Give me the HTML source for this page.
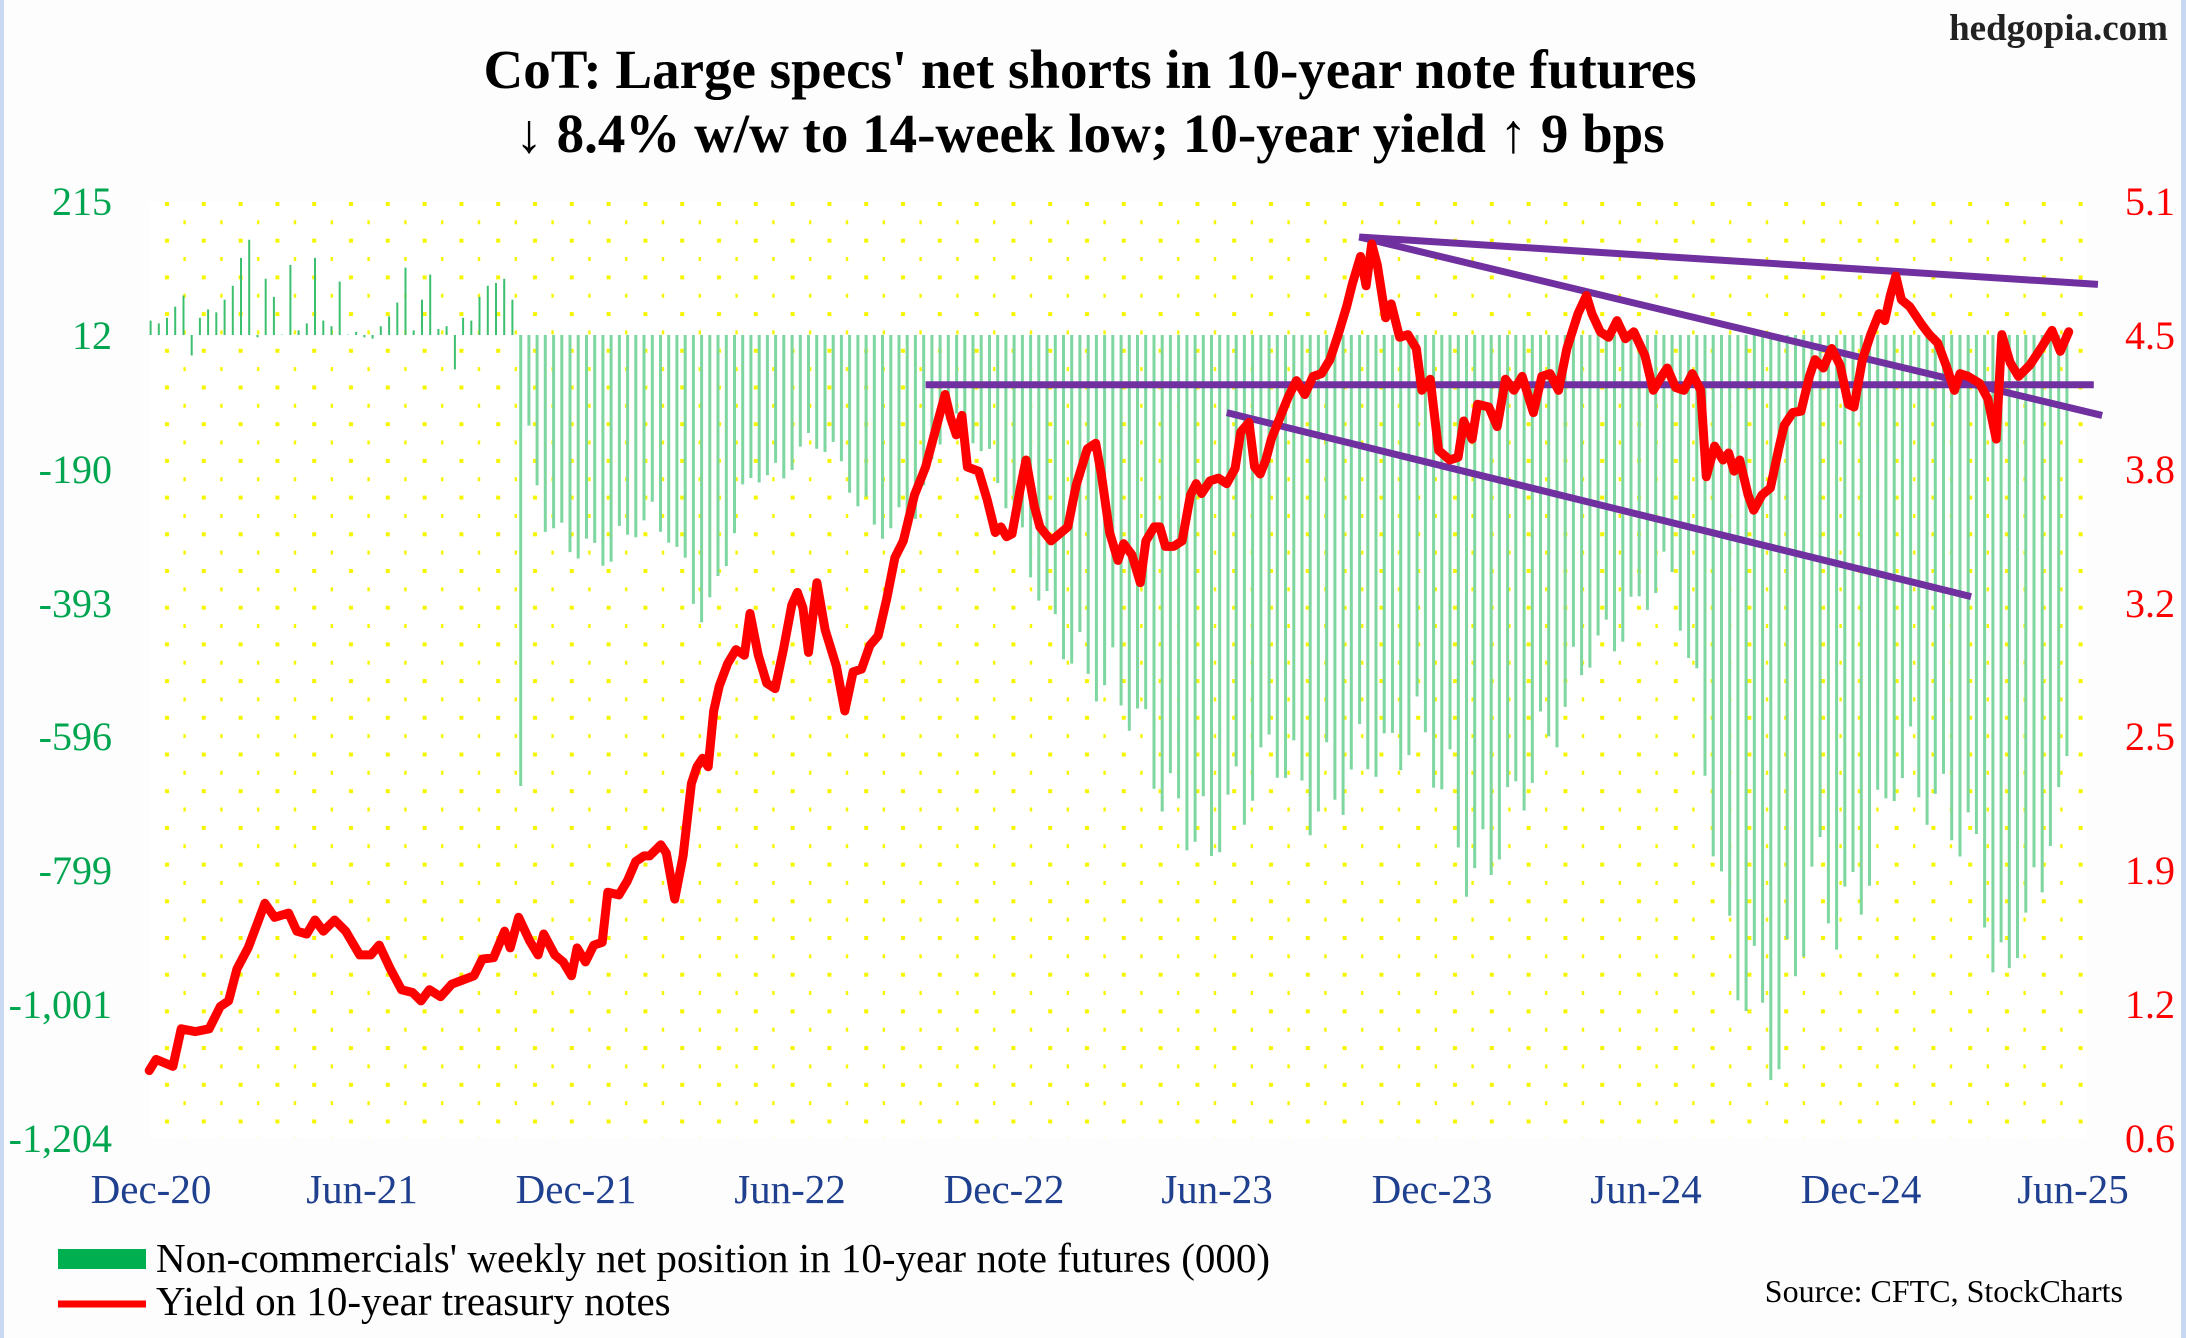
<!DOCTYPE html>
<html><head><meta charset="utf-8"><style>
html,body{margin:0;padding:0;background:#fff;}
svg{display:block;}
</style></head><body>
<svg id="s" width="2186" height="1338" viewBox="0 0 2186 1338" xmlns="http://www.w3.org/2000/svg" font-family="'Liberation Serif', serif">
<defs>
<pattern id="dots" x="149" y="202" width="36.8" height="36.7" patternUnits="userSpaceOnUse">
<rect x="16" y="0" width="4" height="4" fill="#f5f500"/>
<rect x="34.4" y="18.3" width="4" height="4" fill="#f5f500"/>
</pattern>
</defs>
<rect x="0" y="0" width="2186" height="1338" fill="#fdfdfd"/>
<rect x="0" y="0" width="4" height="1338" fill="#c8d8f0"/>
<rect x="2181" y="0" width="5" height="1338" fill="#c8d8f0"/>
<rect x="149" y="202" width="1938" height="936" fill="#fff"/>
<rect x="149" y="202" width="1938" height="936" fill="url(#dots)"/>
<g id="bars"></g>
<g id="trend" stroke="#7030a0" stroke-width="7" stroke-linecap="butt"></g>
<polyline id="yl" fill="none" stroke="#ff0000" stroke-width="9" stroke-linejoin="round" stroke-linecap="round"/>
<text x="2168" y="40" text-anchor="end" font-size="37" font-weight="bold" fill="#222">hedgopia.com</text>
<text x="1090" y="88" text-anchor="middle" font-size="55" font-weight="bold" fill="#000">CoT: Large specs' net shorts in 10-year note futures</text>
<text x="1090" y="152" text-anchor="middle" font-size="55" font-weight="bold" fill="#000">↓ 8.4% w/w to 14-week low; 10-year yield ↑ 9 bps</text>
<g font-size="40" fill="#00a550" text-anchor="end">
<text x="112" y="215">215</text><text x="112" y="349">12</text><text x="112" y="483">-190</text><text x="112" y="617">-393</text><text x="112" y="750">-596</text><text x="112" y="884">-799</text><text x="112" y="1018">-1,001</text><text x="112" y="1152">-1,204</text>
</g>
<g font-size="40" fill="#ff0000" text-anchor="end">
<text x="2175" y="215">5.1</text><text x="2175" y="349">4.5</text><text x="2175" y="483">3.8</text><text x="2175" y="617">3.2</text><text x="2175" y="750">2.5</text><text x="2175" y="884">1.9</text><text x="2175" y="1018">1.2</text><text x="2175" y="1152">0.6</text>
</g>
<g font-size="41" fill="#1f3f8f" text-anchor="middle">
<text x="151" y="1203">Dec-20</text><text x="362" y="1203">Jun-21</text><text x="576" y="1203">Dec-21</text><text x="790" y="1203">Jun-22</text><text x="1004" y="1203">Dec-22</text><text x="1217" y="1203">Jun-23</text><text x="1432" y="1203">Dec-23</text><text x="1646" y="1203">Jun-24</text><text x="1861" y="1203">Dec-24</text><text x="2073" y="1203">Jun-25</text>
</g>
<rect x="58" y="1249" width="88" height="20" fill="#00b050"/>
<line x1="58" y1="1304" x2="146" y2="1304" stroke="#ff0000" stroke-width="7"/>
<text x="156" y="1272" font-size="41" fill="#000">Non-commercials' weekly net position in 10-year note futures (000)</text>
<text x="156" y="1315" font-size="41" fill="#000">Yield on 10-year treasury notes</text>
<text x="2123" y="1302" text-anchor="end" font-size="32" fill="#000">Source: CFTC, StockCharts</text>
</svg>
<script>
var S=1.394,NS="http://www.w3.org/2000/svg";
var yk=[[107,768],[112,760],[124,765],[130,738],[140,740],[150,738],[158,722],[164,718],[170,695],[178,680],[190,648],[197,658],[207,655],[213,668],[220,670],[226,660],[232,668],[240,660],[248,668],[258,685],[266,685],[272,678],[280,695],[288,710],[296,712],[302,718],[308,710],[316,715],[324,706],[332,703],[340,700],[346,688],[354,687],[362,668],[366,680],[372,658],[380,675],[386,685],[390,670],[398,685],[404,690],[410,700],[414,680],[420,690],[426,678],[432,676],[436,640],[444,642],[450,632],[456,618],[462,614],[466,614],[474,606],[478,612],[484,645],[490,614],[496,562],[500,550],[504,544],[508,550],[512,510],[516,492],[522,476],[528,466],[534,470],[538,440],[544,470],[550,490],[556,494],[562,466],[568,434],[572,425],[576,436],[580,468],[586,418],[592,452],[600,478],[606,510],[612,482],[618,480],[624,463],[630,456],[636,430],[642,400],[648,388],[656,355],[664,335],[672,305],[678,283],[682,300],[686,312],[690,298],[694,335],[702,338],[708,358],[714,382],[718,378],[722,385],[726,383],[732,350],[736,330],[742,363],[746,378],[754,388],[760,383],[766,378],[772,348],[780,322],[786,318],[790,340],[796,382],[802,402],[806,390],[812,398],[818,418],[822,388],[828,378],[832,378],[836,392],[842,392],[848,388],[854,355],[858,347],[862,354],[868,345],[874,343],[880,347],[886,336],[890,310],[896,303],[900,335],[904,340],[908,330],[912,315],[918,300],[924,285],[930,273],[936,283],[942,270],[948,268],[954,258],[960,240],[966,220],[970,204],[976,184],[980,205],[984,175],[988,190],[994,228],[998,218],[1004,242],[1010,240],[1016,250],[1020,280],[1026,272],[1032,323],[1040,330],[1046,328],[1050,302],[1056,315],[1060,290],[1068,292],[1074,306],[1080,272],[1086,280],[1092,270],[1100,296],[1106,270],[1112,268],[1118,280],[1124,250],[1132,225],[1138,212],[1142,225],[1148,238],[1154,242],[1160,230],[1166,243],[1172,238],[1180,255],[1186,280],[1192,270],[1196,264],[1202,278],[1208,280],[1214,268],[1220,280],[1224,342],[1230,320],[1236,330],[1240,325],[1244,338],[1248,330],[1254,355],[1258,366],[1264,355],[1270,350],[1276,322],[1280,305],[1286,296],[1292,295],[1298,270],[1302,258],[1308,264],[1314,250],[1320,262],[1326,290],[1330,292],[1336,258],[1342,240],[1348,225],[1352,230],[1356,212],[1360,198],[1364,215],[1370,220],[1378,232],[1384,240],[1390,246],[1396,262],[1402,280],[1406,268],[1412,270],[1420,275],[1426,286],[1432,315],[1436,240],[1442,260],[1448,270],[1456,262],[1464,250],[1472,237],[1478,252],[1484,238]];
document.getElementById('yl').setAttribute('points',yk.map(function(p){return (p[0]*S).toFixed(1)+','+(p[1]*S).toFixed(1)}).join(' '));
var tr=[[664,276,1502,276],[975,170,1505,204],[975,170,1508,298],[880,296,1414,428]],tg=document.getElementById('trend');
tr.forEach(function(t){var l=document.createElementNS(NS,'line');l.setAttribute('x1',t[0]*S);l.setAttribute('y1',t[1]*S);l.setAttribute('x2',t[2]*S);l.setAttribute('y2',t[3]*S);tg.appendChild(l);});
var bk=[[376,300],[390,380],[400,395],[420,405],[440,408],[460,380],[480,390],[490,420],[508,460],[520,410],[540,345],[560,350],[580,320],[600,330],[620,380],[640,390],[660,370],[680,300],[700,320],[720,360],[740,420],[760,470],[780,500],[800,510],[820,540],[830,580],[840,600],[860,620],[866,650],[880,590],[890,615],[900,570],[920,560],[940,600],[960,590],[980,560],[1000,560],[1020,540],[1040,600],[1050,640],[1060,660],[1080,610],[1100,570],[1120,530],[1140,480],[1160,470],[1180,440],[1200,420],[1220,540],[1240,710],[1260,750],[1278,795],[1290,710],[1300,650],[1320,690],[1340,650],[1360,570],[1380,590],[1400,610],[1420,640],[1436,760],[1450,670],[1460,700],[1470,610],[1480,590],[1486,580]];
function interp(x){for(var i=0;i<bk.length-1;i++){if(x>=bk[i][0]&&x<=bk[i+1][0]){var f=(x-bk[i][0])/(bk[i+1][0]-bk[i][0]);return bk[i][1]+f*(bk[i+1][1]-bk[i][1]);}}return bk[bk.length-1][1];}
var early=[-10,-8,-12,-20,-28,15,-12,-18,-16,-25,-35,-55,-68,2,-40,-27,0,-50,-3,-8,-55,-10,-6,-38,0,-2,2,3,-6,-13,-23,-48,-3,-25,-43,-4,-6,25,-12,-10,-27,-35,-37,-40,-25,-38,-70,-55,-32,-42,-10,-42,-68,-59,-30,-52,-35,-2];
var bg=document.getElementById('bars'),zero=335,x=108,i=0,h='';
while(x<=1486){var yb;
 if(x<372){var v=early[i%early.length];yb=240+v;}
 else{var b=interp(x);yb=240+(b-240)*(0.82+0.18*Math.abs(Math.sin(i*2.3+1)));}
 var X=(x*S).toFixed(1),Y0=zero,Y1=(yb*S).toFixed(1);
 h+='<line x1="'+X+'" y1="'+Y0+'" x2="'+X+'" y2="'+Y1+'" stroke="'+(x<372?'#3cc070':'#7ed6a0')+'" stroke-width="'+(x<372?2:3)+'"/>';
 x+=5.9;i++;}
bg.innerHTML=h;
</script>
</body></html>
